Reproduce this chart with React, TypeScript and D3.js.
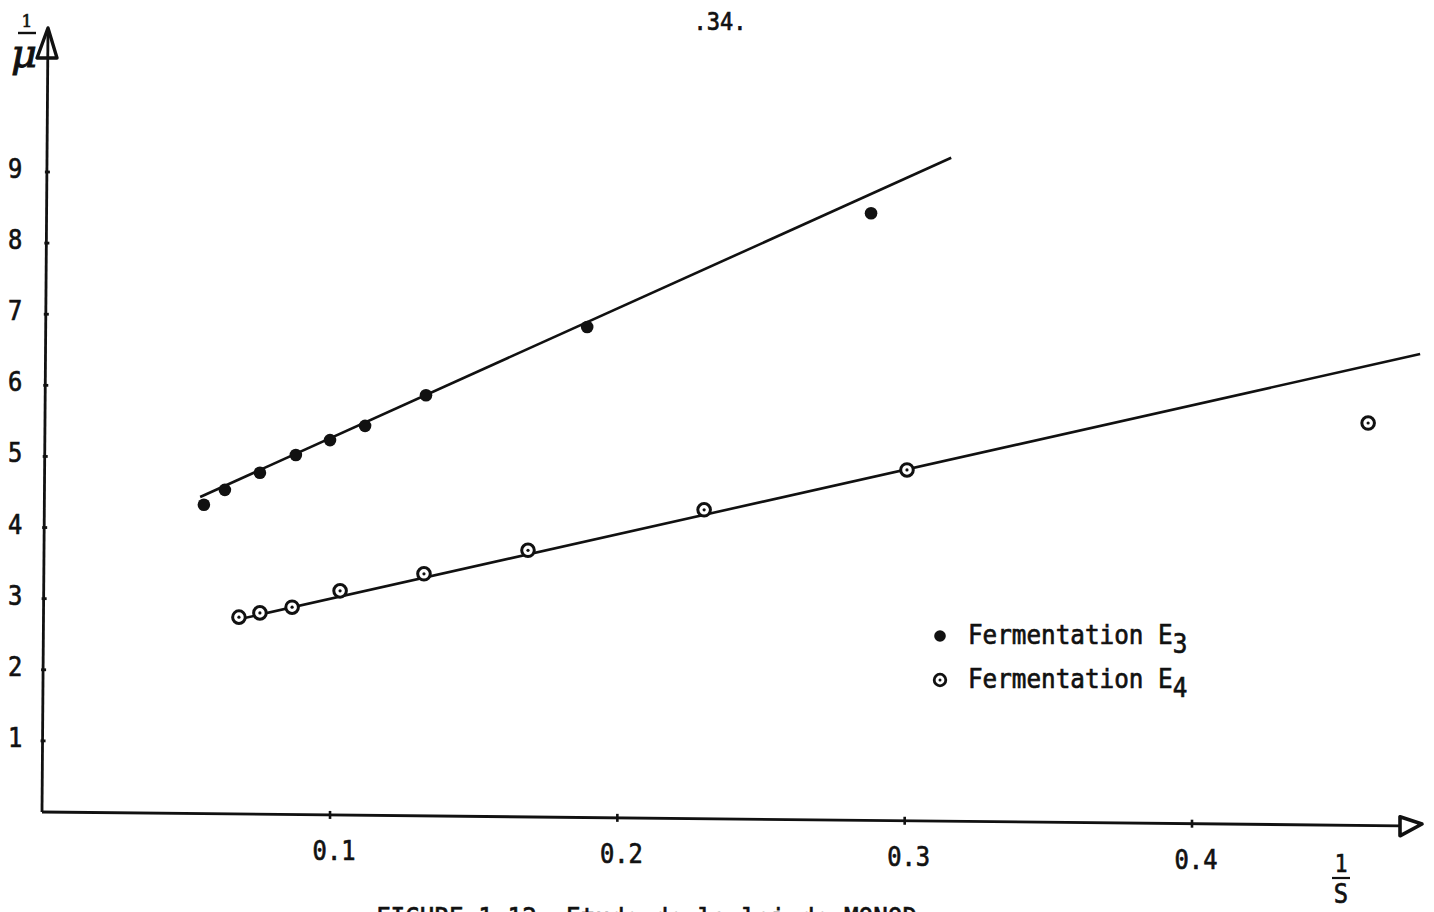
import React from 'react';
import * as d3 from 'd3';

const W = 1434;
const H = 912;

// Fermentation E3 : 1/S and 1/mu
const e3InvS = [0.0561, 0.0634, 0.0756, 0.0881, 0.1, 0.1122, 0.1334, 0.1895, 0.2883];
const e3InvMu = [4.32, 4.53, 4.77, 5.02, 5.23, 5.43, 5.86, 6.82, 8.42];

// Fermentation E4 : 1/S and 1/mu
const e4InvS = [0.0683, 0.0756, 0.0868, 0.1035, 0.1327, 0.1689, 0.2302, 0.3008, 0.4613];
const e4InvMu = [2.74, 2.8, 2.88, 3.11, 3.35, 3.68, 4.25, 4.81, 5.47];

// Lineweaver-Burk straight lines drawn through each series (end points)
const e3FitInvS = [0.0548, 0.3162];
const e3FitInvMu = [4.43, 9.2];
const e4FitInvS = [0.0683, 0.4794];
const e4FitInvMu = [2.71, 6.44];

const xTicks = [0.1, 0.2, 0.3, 0.4];
const xTickLabels = ['0.1', '0.2', '0.3', '0.4'];
const yTicks = [1, 2, 3, 4, 5, 6, 7, 8, 9];
const yTickLabels = ['1', '2', '3', '4', '5', '6', '7', '8', '9'];

const legendLabels = ['Fermentation E', 'Fermentation E'];
const legendSubs = ['3', '4'];

const TYPE = "'DejaVu Sans Mono', 'Liberation Mono', monospace";
const INK = '#111';

// typewriter text: slightly condensed, slightly heavy
function TT({
  x,
  y,
  size,
  anchor = 'start',
  sx = 0.88,
  children,
}: {
  x: number;
  y: number;
  size: number;
  anchor?: 'start' | 'middle' | 'end';
  sx?: number;
  children: React.ReactNode;
}) {
  return (
    <text
      transform={`translate(${x},${y}) scale(${sx},1)`}
      fontSize={size}
      textAnchor={anchor}
      fill={INK}
      stroke={INK}
      strokeWidth={0.7}
      fontFamily={TYPE}
    >
      {children}
    </text>
  );
}

export default function App() {
  const x = d3.scaleLinear().domain([0, 0.4]).range([42.7, 1192]);
  const y = d3.scaleLinear().domain([0, 9]).range([812, 172]);

  // hand-drawn axes: the abscissa slopes down a little, the ordinate leans right
  const xAxisEnd = 1420;
  const drop = (px: number) => ((px - 42) * 14) / 1378;
  const lean = (py: number) => ((812 - py) * 6) / 784;

  const line = d3
    .line<[number, number]>()
    .x((d) => x(d[0]))
    .y((d) => y(d[1]));

  const e3Pts = e3InvS.map((v, i) => [v, e3InvMu[i]] as [number, number]);
  const e4Pts = e4InvS.map((v, i) => [v, e4InvMu[i]] as [number, number]);
  const e3Fit = e3FitInvS.map((v, i) => [v, e3FitInvMu[i]] as [number, number]);
  const e4Fit = e4FitInvS.map((v, i) => [v, e4FitInvMu[i]] as [number, number]);

  const ax0 = 42;
  const ay0 = 812;
  const yTop = 30;

  return (
    <svg
      width={W}
      height={H}
      style={{ position: 'absolute', left: 0, top: 0, background: '#fff' }}
      fontFamily={TYPE}
    >
      <rect width={W} height={H} fill="#fff" />

      {/* page number */}
      <TT x={720} y={30} size={25} anchor="middle">
        .34.
      </TT>

      {/* ordinate */}
      <line x1={ax0} y1={ay0} x2={ax0 + lean(yTop)} y2={yTop} stroke={INK} strokeWidth={2.8} />
      <path
        d={`M${ax0 + lean(yTop)},${yTop - 2} L${ax0 - 5},${58} L${ax0 + 15},${58} Z`}
        fill="#fff"
        stroke={INK}
        strokeWidth={3.4}
        strokeLinejoin="round"
      />
      <line x1={ax0 + lean(58)} y1={58} x2={ax0 + lean(yTop)} y2={yTop} stroke={INK} strokeWidth={2.8} />
      {yTicks.map((t) => (
        <line
          key={t}
          x1={ax0 + lean(y(t)) - 2}
          x2={ax0 + lean(y(t)) + 3}
          y1={y(t)}
          y2={y(t)}
          stroke={INK}
          strokeWidth={2.8}
        />
      ))}
      {yTicks.map((t, i) => (
        <TT key={t} x={8} y={y(t) - 4 + 10} size={27}>
          {yTickLabels[i]}
        </TT>
      ))}

      {/* 1/mu */}
      <text x={27} y={27} fontSize={17} textAnchor="middle" fill={INK} stroke={INK} strokeWidth={0.6} fontFamily="'DejaVu Serif', serif">
        1
      </text>
      <line x1={18} x2={36} y1={33} y2={33} stroke={INK} strokeWidth={2.4} />
      <text
        x={24}
        y={67}
        fontSize={40}
        textAnchor="middle"
        fill={INK}
        stroke={INK}
        strokeWidth={1}
        fontStyle="italic"
        fontFamily="'DejaVu Serif', serif"
      >
        μ
      </text>

      {/* abscissa */}
      <line x1={ax0} y1={ay0} x2={xAxisEnd - 20} y2={ay0 + drop(xAxisEnd - 20)} stroke={INK} strokeWidth={2.8} />
      <path
        d={`M${1400},${ay0 + drop(1400) - 9} L${1400},${ay0 + drop(1400) + 10} L${1422},${ay0 + drop(1422) - 2} Z`}
        fill="#fff"
        stroke={INK}
        strokeWidth={3.6}
        strokeLinejoin="round"
      />
      {xTicks.map((t) => (
        <line
          key={t}
          x1={x(t)}
          x2={x(t)}
          y1={ay0 + drop(x(t)) - 4}
          y2={ay0 + drop(x(t)) + 4}
          stroke={INK}
          strokeWidth={2.6}
        />
      ))}
      {xTicks.map((t, i) => (
        <TT key={t} x={x(t) + 4} y={ay0 + drop(x(t)) + 45} size={27} anchor="middle">
          {xTickLabels[i]}
        </TT>
      ))}

      {/* 1/S */}
      <TT x={1341} y={872} size={24} anchor="middle">
        1
      </TT>
      <line x1={1332} x2={1350} y1={878} y2={878} stroke={INK} strokeWidth={2.2} />
      <TT x={1341} y={903} size={27} anchor="middle">
        S
      </TT>

      {/* fitted lines */}
      <path d={line(e3Fit) ?? ''} fill="none" stroke={INK} strokeWidth={2.6} />
      <path d={line(e4Fit) ?? ''} fill="none" stroke={INK} strokeWidth={2.6} />

      {/* E3 points */}
      {e3Pts.map((d, i) => (
        <circle key={`e3-${i}`} cx={x(d[0])} cy={y(d[1])} r={6.3} fill={INK} />
      ))}

      {/* E4 points */}
      {e4Pts.map((d, i) => (
        <g key={`e4-${i}`}>
          <circle cx={x(d[0])} cy={y(d[1])} r={6.3} fill="#fff" stroke={INK} strokeWidth={3} />
          <circle cx={x(d[0])} cy={y(d[1])} r={1.6} fill={INK} />
        </g>
      ))}

      {/* legend */}
      <circle cx={940} cy={636} r={5.8} fill={INK} />
      <circle cx={940} cy={680} r={5.8} fill="#fff" stroke={INK} strokeWidth={2.8} />
      <circle cx={940} cy={680} r={1.5} fill={INK} />
      {legendLabels.map((lab, i) => (
        <TT key={i} x={968} y={644 + i * 44} size={27} sx={0.9}>
          {lab}
          <tspan dy={9}>{legendSubs[i]}</tspan>
        </TT>
      ))}

      {/* caption, cut by the bottom of the page */}
      <TT x={376} y={927} size={27} sx={0.9}>
        FIGURE 1.12. Etude de la loi de MONOD
      </TT>
    </svg>
  );
}
